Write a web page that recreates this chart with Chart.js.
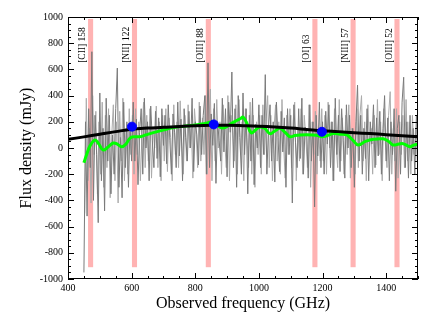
<!DOCTYPE html>
<html>
<head>
<meta charset="utf-8">
<script src="https://cdn.jsdelivr.net/npm/chart.js@4"></script>
<style>
  body { margin: 0; background: #fff; }
</style>
</head>
<body>
<canvas id="myChart" width="436" height="331"></canvas>
<script>
document.addEventListener("DOMContentLoaded", function() {

    // observed spectrum, 5 GHz channels starting at 450 GHz (dark gray)
    const specStart = 450
    const specStep = 5
    const specFlux = [
        // 450 - 600
        -950, 200, -520, 300, -150, 735, -400, 250, -50, -570, 420, -250, 150, -480, 380, -100,
        250, -350, 100, -200, 300, 610, -300, 80, -380, 350, -150, 200, -300, 180, -100,
        // 605 - 700
        350, -100, 220, -280, 120, 300, -200, 380, 0, 200, -250, 320, 60, -150, 280, -80,
        230, -220, 300, 20,
        // 705 - 1000
        250, -120, 330, 60, -200, 260, 120, -150, 350, -60, 220, -250, 300, 80, -100, 280,
        0, 380, -180, 200, 100, -130, 320, -50, 250, 400, -200, 650, -150, 260, 20, 340,
        -270, 200, 60, -100, 380, -30, 300, -220, 350, 120, 580, -150, 300, -300, 400, 80,
        -200, 420, -50, 300, -350, 250, -100, 380, -280, 180, 0, 330,
        // 1005 - 1200
        -150, 250, -50, 560, -200, 150, 330, -100, 200, -260, 350, 80, -180, 280, -30, 230,
        -300, 300, -50, 250, -420, 330, 40, -150, 300, -80, 380, -200, 160, 120, -230, 330,
        -100, 200, -450, 250, -60, 350, -150, 200,
        // 1205 - 1500
        -200, 280, 30, 330, -150, 200, -250, 380, -50, 250, -180, 300, 60, -230, 330, 0,
        250, -150, 150, -300, 200, 480, -100, 250, -200, 150, -80, 300, -250, 200, 30, 330,
        -150, 230, -60, 280, -200, 150, 400, -100, 230, -250, 200, -50, 300, -330, 150, 250,
        -200, 350, 540, -150, 200, -230, 250, -100, 150, -200, 250, -60
    ]

    // second spectrum, channels offset by half a step (light gray)
    const spec2Start = 452.5
    const spec2Flux = [
        // 452.5 - 597.5
        -500, 380, -250, 150, -420, 400, -50, 280, -350, 200, -200, 350, -300, 250, -150, 300,
        -380, 100, 330, -250, 200, -420, 280, -100, 380, -250, 150, -200, 300, -50,
        // 602.5 - 697.5
        250, -200, 300, -50, 200, -250, 100, 350, -150, 250, -100, 300, -230, 150, 0, 320,
        -150, 200, -250, 250,
        // 702.5 - 997.5
        -100, 300, -180, 230, 80, -250, 330, -50, 200, -150, 360, 40, -200, 250, -100, 330,
        0, 150, -230, 300, 130, -150, 350, -100, 230, -50, 400, -200, 160, 450, -250, 300,
        -100, 370, 0, 200, -200, 330, 50, -150, 400, -250, 250, 130, -100, 330, -200, 370,
        -50, 200, -250, 300, 80, -150, 350, -200, 250, -300, 200, -50,
        // 1002.5 - 1197.5
        250, -200, 330, -50, 200, 400, -150, 250, -250, 150, 330, -100, 200, -200, 370, 30,
        -230, 250, -50, 300, -150, 200, 350, -250, 150, -100, 300, -200, 250, 80, -150, 330,
        -300, 200, -50, 280, -200, 150, -100, 300,
        // 1202.5 - 1497.5
        -100, 250, -200, 350, 0, 200, -250, 300, 30, -150, 370, -100, 230, -200, 250, -50,
        330, -230, 150, 80, -200, 300, -150, 250, 400, -100, 200, -250, 330, 0, 150, -200,
        250, -130, 370, -50, 200, -250, 300, 30, -150, 250, 430, -200, 150, -100, 300, -230,
        200, -50, 250, -150, 370, -100, 200, -200, 250, -50, 150, -100
    ]

    // smoothed spectrum (green)
    const smoothFreq = [450, 460, 470, 485, 497, 510, 525, 542, 555, 568, 582, 595, 610, 626, 645, 663,
        680, 699, 720, 740, 760, 780, 800, 820, 840, 857, 872, 887, 900, 915, 930, 943, 950, 960,
        976, 990, 1003, 1018, 1035, 1050, 1066, 1082, 1098, 1113, 1129, 1150, 1171, 1185, 1198,
        1215, 1234, 1255, 1276, 1295, 1312, 1335, 1360, 1390, 1408, 1422, 1440, 1453, 1465, 1475,
        1487, 1500]
    const smoothFlux = [-112, -40, 20, 61, 30, -15, 5, 38, 30, 10, 30, 76, 86, 86, 100, 114,
        125, 137, 150, 160, 165, 170, 175, 183, 192, 200, 170, 152, 165, 190, 210, 225, 237, 200,
        115, 140, 160, 150, 110, 130, 150, 120, 86, 95, 100, 102, 100, 95, 86,
        95, 110, 105, 100, 60, 23, 50, 66, 70, 50, 23, 30, 33, 20, 10,
        22, 30]

    // continuum model (black)
    const modelFreq = [400, 450, 500, 550, 600, 650, 700, 750, 800, 850, 900, 950, 1000, 1050,
        1100, 1150, 1200, 1250, 1300, 1350, 1400, 1450, 1500]
    const modelFlux = [66, 85, 105, 125, 143, 152, 158, 165, 170, 173, 173, 170, 166, 160,
        152, 142, 132, 125, 117, 110, 102, 94, 86]

    // photometry (blue)
    const photFreq = [601, 858, 1198]
    const photFlux = [163, 180, 124]

    // expected lines
    const lineNames = ["[CII] 158", "[NII] 122", "[OIII] 88", "[OI] 63", "[NIII] 57", "[OIII] 52"]
    const lineFreqs = [471, 609, 841, 1176, 1296, 1434]

    const xTicks = [400, 600, 800, 1000, 1200, 1400]
    const yTicks = [-1000, -800, -600, -400, -200, 0, 200, 400, 600, 800, 1000]

    const serif = "'Liberation Serif', 'DejaVu Serif', serif"

    const linesPlugin = {
        id: 'lines',
        beforeDatasetsDraw(chart) {
            const ctx = chart.ctx
            const xs = chart.scales.x
            const ys = chart.scales.y
            ctx.save()
            ctx.fillStyle = '#ffb3b3'
            const top = ys.getPixelForValue(985)
            const bot = ys.getPixelForValue(-910)
            lineFreqs.forEach(function(f, i) {
                const l = xs.getPixelForValue(f - 8)
                const r = xs.getPixelForValue(f + 8)
                ctx.fillRect(l, top, r - l, bot - top)
            })
            ctx.fillStyle = '#000'
            ctx.font = '9.5px ' + serif
            ctx.textAlign = 'left'
            ctx.textBaseline = 'middle'
            const ty = ys.getPixelForValue(650)
            lineFreqs.forEach(function(f, i) {
                ctx.save()
                ctx.translate(xs.getPixelForValue(f) - 8, ty)
                ctx.rotate(-Math.PI / 2)
                ctx.fillText(lineNames[i], 0, 0)
                ctx.restore()
            })
            ctx.restore()
        },
        afterDraw(chart) {
            const ctx = chart.ctx
            const a = chart.chartArea
            const xs = chart.scales.x
            const ys = chart.scales.y
            ctx.save()
            ctx.strokeStyle = '#000'
            ctx.lineWidth = 1
            ctx.strokeRect(a.left + 0.5, a.top + 0.5, a.right - a.left - 1, a.bottom - a.top - 1)
            ctx.beginPath()
            for (let v = 400; v <= 1500; v += 50) {
                const px = Math.round(xs.getPixelForValue(v)) + 0.5
                const len = v % 200 === 0 ? 6 : 3
                ctx.moveTo(px, a.bottom); ctx.lineTo(px, a.bottom - len)
                ctx.moveTo(px, a.top); ctx.lineTo(px, a.top + len)
            }
            for (let v = -1000; v <= 1000; v += 50) {
                const py = Math.round(ys.getPixelForValue(v)) + 0.5
                const len = v % 200 === 0 ? 6 : 3
                ctx.moveTo(a.left, py); ctx.lineTo(a.left + len, py)
                ctx.moveTo(a.right, py); ctx.lineTo(a.right - len, py)
            }
            ctx.stroke()
            ctx.restore()
        }
    }

    const data = {
        datasets: [{
            type: 'scatter',
            data: photFreq.map((f, i) => ({ x: f, y: photFlux[i] })),
            backgroundColor: '#0000ff',
            borderColor: '#0000ff',
            pointRadius: 4.5,
            order: 0
        }, {
            type: 'line',
            data: modelFreq.map((f, i) => ({ x: f, y: modelFlux[i] })),
            borderColor: '#000',
            borderWidth: 3,
            pointRadius: 0,
            tension: 0.4,
            order: 1
        }, {
            type: 'line',
            data: smoothFreq.map((f, i) => ({ x: f, y: smoothFlux[i] })),
            borderColor: '#00ff00',
            borderWidth: 3,
            pointRadius: 0,
            tension: 0.4,
            order: 2
        }, {
            type: 'line',
            data: specFlux.map((v, i) => ({ x: specStart + i * specStep, y: v })),
            borderColor: '#7a7a7a',
            borderWidth: 1,
            pointRadius: 0,
            tension: 0,
            order: 3
        }, {
            type: 'line',
            data: spec2Flux.map((v, i) => ({ x: spec2Start + i * specStep, y: v })),
            borderColor: '#ababab',
            borderWidth: 1,
            pointRadius: 0,
            tension: 0,
            order: 4
        }]
    }

    const config = {
        type: 'line',
        data: data,
        options: {
            responsive: false,
            animation: false,
            layout: { padding: { top: 17, right: 18, bottom: 14, left: 13 } },
            plugins: {
                legend: { display: false },
                tooltip: { enabled: false }
            },
            scales: {
                x: {
                    type: 'linear',
                    min: 400,
                    max: 1500,
                    afterBuildTicks: function(scale) { scale.ticks = xTicks.map(v => ({ value: v })) },
                    afterFit: function(scale) { scale.height = 38 },
                    grid: { display: false, drawTicks: false },
                    border: { display: false },
                    ticks: {
                        color: '#000', font: { family: serif, size: 10 }, padding: 3, maxRotation: 0,
                        callback: v => String(v)
                    },
                    title: {
                        display: true,
                        text: 'Observed frequency (GHz)',
                        color: '#000',
                        font: { family: serif, size: 16 },
                        padding: { top: 0 }
                    }
                },
                y: {
                    min: -1000,
                    max: 1000,
                    afterBuildTicks: function(scale) { scale.ticks = yTicks.map(v => ({ value: v })) },
                    afterFit: function(scale) { scale.width = 55 },
                    grid: { display: false, drawTicks: false },
                    border: { display: false },
                    ticks: {
                        color: '#000', font: { family: serif, size: 10 }, padding: 5,
                        callback: v => String(v)
                    },
                    title: {
                        display: true,
                        text: 'Flux density (mJy)',
                        color: '#000',
                        font: { family: serif, size: 16 },
                        padding: { bottom: 0 }
                    }
                }
            }
        },
        plugins: [linesPlugin]
    }

    var myChart = new Chart(document.getElementById('myChart'), config)
});
</script>
</body>
</html>
